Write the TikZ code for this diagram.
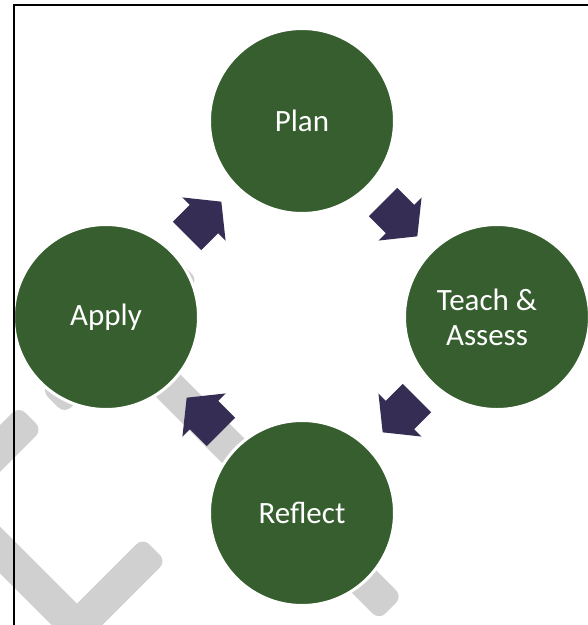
\documentclass[tikz,border=0pt]{standalone}
\usepackage{fontspec}
\setmainfont{Carlito}
\definecolor{stagegreen}{RGB}{54,94,46}
\definecolor{arrownavy}{RGB}{53,45,83}
\definecolor{wmgray}{RGB}{208,208,208}
\begin{document}
\begin{tikzpicture}[x=1pt,y=-1pt,
  stage/.style={circle,fill=stagegreen,draw=white,line width=3pt,minimum size=185pt,inner sep=0pt,
    text=white,font=\fontsize{31}{35}\selectfont,align=center},
  stagetext/.style={text=white,font=\fontsize{31}{35}\selectfont,align=center,inner sep=0pt},
  wm/.style={fill=wmgray,draw=none,rounded corners=9pt,minimum height=33pt,inner sep=0pt},
  cyclearrow/.pic={\fill[arrownavy] (-24,20) -- (0,20) -- (0,30.5) -- (24.5,0) -- (0,-30.5) -- (0,-20) -- (-24,-20) -- cycle;}
]
\useasboundingbox (0,0) rectangle (588,625);
\clip (0,0) rectangle (588,625);
\fill[white] (0,0) rectangle (588,625);
% watermark strokes
\node[wm,minimum width=382.5pt,rotate=-45] (wmA) at (255.5,473) {};
\node[wm,minimum width=188.8pt,rotate=45] (wmD) at (119.75,335.25) {};
\node[wm,minimum width=150pt,rotate=45] (wmC) at (-22.5,471) {};
\node[wm,minimum width=240.4pt,rotate=-45] (wmL) at (10,560) {};
\node[wm,minimum width=130.8pt,rotate=45] (wmR) at (108.25,595.75) {};
% stages
\node[stage] (plan) at (302,121) {Plan};
\node[stage] (teach) at (497,317) {};
\node[stagetext] (teachlabel) at (487,317) {Teach \&\\Assess};
\node[stage] (reflect) at (302,513) {Reflect};
\node[stage] (apply) at (106,317) {Apply};
% arrows
\pic[rotate=45] at (204,219) {cyclearrow};
\pic[rotate=-45] at (400,219) {cyclearrow};
\pic[rotate=-135] at (400,415) {cyclearrow};
\pic[rotate=135] at (204,415) {cyclearrow};
% frame
\draw[black,line width=2pt] (14.2,640) -- (14.2,5.2) -- (600,5.2);
\end{tikzpicture}
\end{document}
